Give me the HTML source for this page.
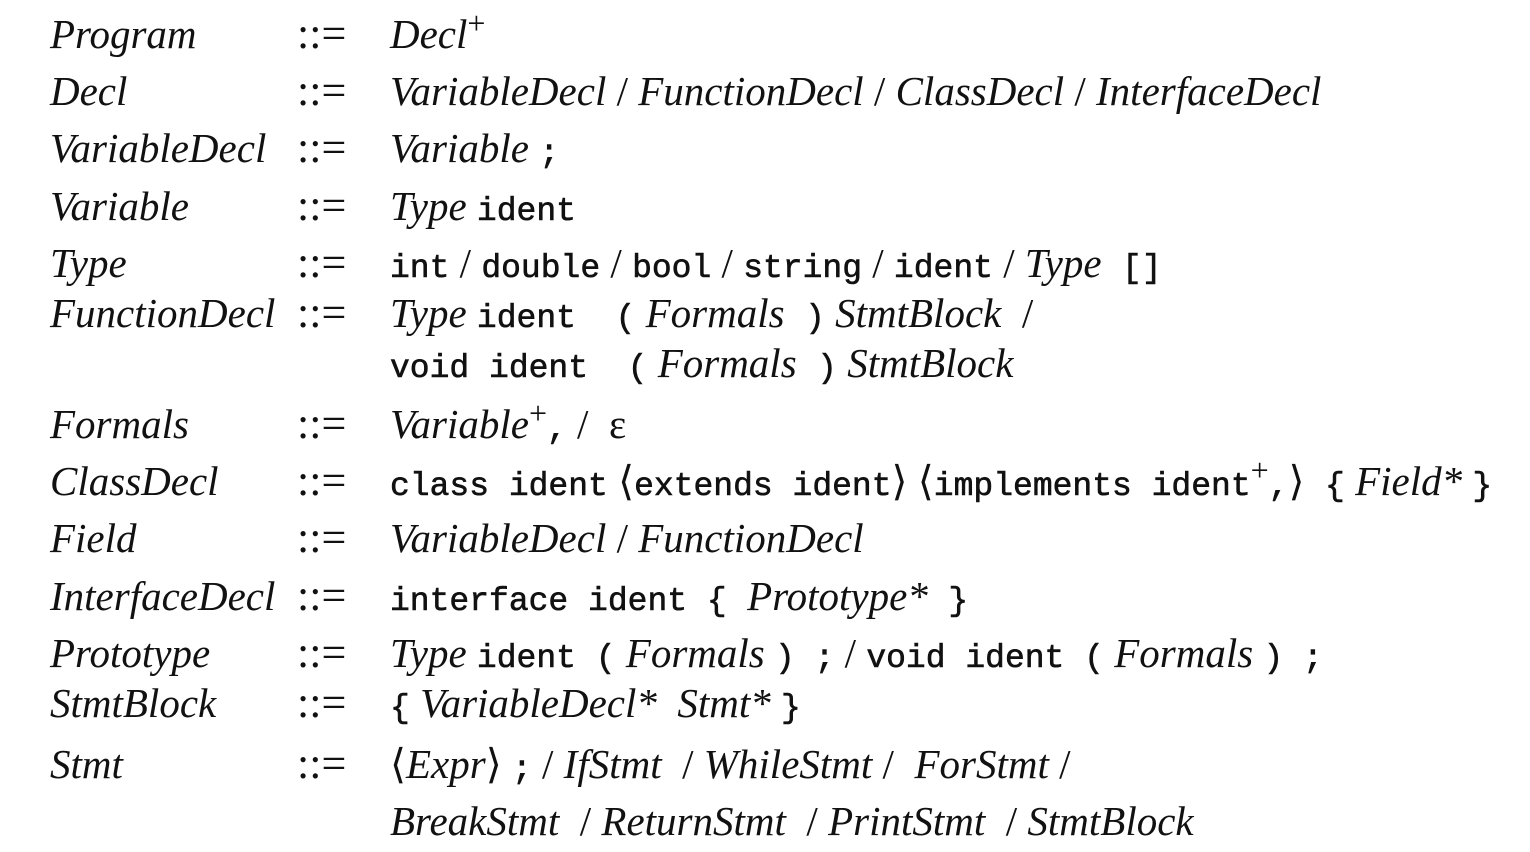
<!DOCTYPE html>
<html><head><meta charset="utf-8"><style>
html,body{margin:0;padding:0;background:#fff;}
body{width:1530px;height:852px;position:relative;overflow:hidden;color:#111;}
.l{position:absolute;white-space:pre;font-family:"Liberation Serif",serif;font-style:italic;font-size:41px;line-height:40px;}
.a{left:50px}.b{left:297px;font-style:normal;font-size:44px}.c{left:390px}
.m{font-family:"Liberation Mono",monospace;font-style:normal;font-size:33px;-webkit-text-stroke:0.6px #111;}
.n{font-style:normal;}
sup{font-size:32px;line-height:0;vertical-align:14px;font-style:normal;}
</style></head><body>
<div class="l a" style="top:14px">Program</div><div class="l b" style="top:14px">::=</div><div class="l c" style="top:14px">Decl<sup>+</sup></div>
<div class="l a" style="top:71px">Decl</div><div class="l b" style="top:71px">::=</div><div class="l c" style="top:71px">VariableDecl <span class="n">/</span> FunctionDecl <span class="n">/</span> ClassDecl <span class="n">/</span> InterfaceDecl</div>
<div class="l a" style="top:128px">VariableDecl</div><div class="l b" style="top:128px">::=</div><div class="l c" style="top:128px">Variable <span class="m">;</span></div>
<div class="l a" style="top:186px">Variable</div><div class="l b" style="top:186px">::=</div><div class="l c" style="top:186px">Type <span class="m">ident</span></div>
<div class="l a" style="top:243px">Type</div><div class="l b" style="top:243px">::=</div><div class="l c" style="top:243px"><span class="m">int</span> <span class="n">/</span> <span class="m">double</span> <span class="n">/</span> <span class="m">bool</span> <span class="n">/</span> <span class="m">string</span> <span class="n">/</span> <span class="m">ident</span> <span class="n">/</span> Type  <span class="m">[]</span></div>
<div class="l a" style="top:293px">FunctionDecl</div><div class="l b" style="top:293px">::=</div><div class="l c" style="top:293px">Type <span class="m">ident  (</span> Formals  <span class="m">)</span> StmtBlock  <span class="n">/</span></div>
<div class="l c" style="top:343px"><span class="m">void ident  (</span> Formals  <span class="m">)</span> StmtBlock</div>
<div class="l a" style="top:404px">Formals</div><div class="l b" style="top:404px">::=</div><div class="l c" style="top:404px">Variable<sup>+</sup><span class="m">,</span> <span class="n">/</span>  <span class="n">ε</span></div>
<div class="l a" style="top:461px">ClassDecl</div><div class="l b" style="top:461px">::=</div><div class="l c" style="top:461px"><span class="m">class ident</span> <span class="n">⟨</span><span class="m">extends ident</span><span class="n">⟩ ⟨</span><span class="m">implements ident</span><sup>+</sup><span class="m">,</span><span class="n">⟩</span>  <span class="m">{</span> Field* <span class="m">}</span></div>
<div class="l a" style="top:518px">Field</div><div class="l b" style="top:518px">::=</div><div class="l c" style="top:518px">VariableDecl <span class="n">/</span> FunctionDecl</div>
<div class="l a" style="top:576px">InterfaceDecl</div><div class="l b" style="top:576px">::=</div><div class="l c" style="top:576px"><span class="m">interface ident {</span>  Prototype*  <span class="m">}</span></div>
<div class="l a" style="top:633px">Prototype</div><div class="l b" style="top:633px">::=</div><div class="l c" style="top:633px">Type <span class="m">ident (</span> Formals <span class="m">) ;</span> <span class="n">/</span> <span class="m">void ident (</span> Formals <span class="m">) ;</span></div>
<div class="l a" style="top:683px">StmtBlock</div><div class="l b" style="top:683px">::=</div><div class="l c" style="top:683px"><span class="m">{</span> VariableDecl*  Stmt* <span class="m">}</span></div>
<div class="l a" style="top:744px">Stmt</div><div class="l b" style="top:744px">::=</div><div class="l c" style="top:744px"><span class="n">⟨</span>Expr<span class="n">⟩</span> <span class="m">;</span> <span class="n">/</span> IfStmt  <span class="n">/</span> WhileStmt <span class="n">/</span>  ForStmt <span class="n">/</span></div>
<div class="l c" style="top:801px">BreakStmt  <span class="n">/</span> ReturnStmt  <span class="n">/</span> PrintStmt  <span class="n">/</span> StmtBlock</div>
</body></html>
